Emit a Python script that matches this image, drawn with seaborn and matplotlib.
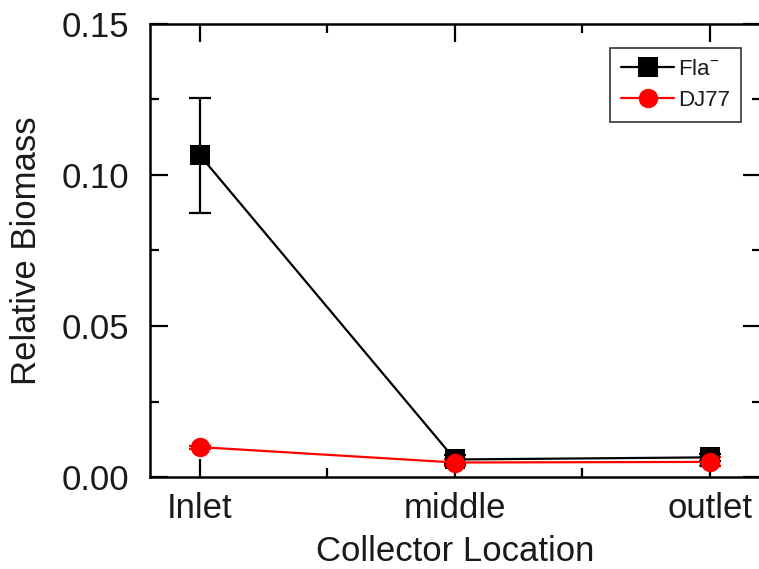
import matplotlib
matplotlib.use("Agg")
import matplotlib.pyplot as plt
import seaborn as sns
import pandas as pd
import numpy as np
from matplotlib.ticker import FixedLocator, MultipleLocator, FormatStrFormatter

categories = ["Inlet", "middle", "outlet"]
fla_values = [0.1065, 0.0058, 0.0065]
fla_err = [0.019, 0.0015, 0.0012]
dj77_values = [0.0099, 0.0048, 0.0050]
dj77_err = [0.0005, 0.0012, 0.0015]
series_names = ["Fla$^{-}$", "DJ77"]
series_colors = ["black", "red"]
series_markers = ["s", "o"]

sns.set_style("ticks")
plt.rcParams["font.family"] = ["Liberation Sans", "DejaVu Sans"]
plt.rcParams["mathtext.fontset"] = "custom"
plt.rcParams["mathtext.rm"] = "Liberation Sans"
plt.rcParams["text.color"] = "#1a1a1a"
plt.rcParams["axes.labelcolor"] = "#1a1a1a"

df = pd.DataFrame({
    "Collector Location": categories * 2,
    "Relative Biomass": fla_values + dj77_values,
    "err": fla_err + dj77_err,
    "series": [series_names[0]] * 3 + [series_names[1]] * 3,
})

fig = plt.figure(figsize=(7.59, 5.69), dpi=100)
ax = fig.add_axes([150 / 759, 92 / 569, 611 / 759, 453 / 569])

for name, color, marker in zip(series_names, series_colors, series_markers):
    sub = df[df["series"] == name]
    ax.errorbar(sub["Collector Location"], sub["Relative Biomass"], yerr=sub["err"],
                fmt="none", ecolor=color, elinewidth=1.6, capsize=8, capthick=1.6, zorder=2)
    sns.lineplot(data=sub, x="Collector Location", y="Relative Biomass", ax=ax,
                 color=color, marker=marker, markersize=14, markeredgewidth=0,
                 linewidth=1.6, label=name, zorder=3)

ax.set_xlim(-0.196, 2.2)
ax.set_ylim(0, 0.15)
ax.yaxis.set_major_locator(FixedLocator([0, 0.05, 0.10, 0.15]))
ax.yaxis.set_major_formatter(FormatStrFormatter("%.2f"))
ax.yaxis.set_minor_locator(MultipleLocator(0.025))
ax.xaxis.set_minor_locator(FixedLocator([0.5, 1.5]))

for s in ax.spines.values():
    s.set_visible(True)
    s.set_linewidth(1.8)
    s.set_color("black")

ax.tick_params(which="both", direction="in", top=True, right=True, width=1.6,
               color="black", labelcolor="#1a1a1a")
ax.tick_params(which="major", length=13)
ax.tick_params(which="minor", length=6.5)
ax.tick_params(axis="y", which="major", pad=15, labelsize=25)
ax.tick_params(axis="x", which="major", pad=11, labelsize=25)

ax.set_xlabel("Collector Location", fontsize=25, labelpad=7)
ax.set_ylabel("Relative Biomass", fontsize=25, labelpad=13)

leg = ax.legend(loc="upper right", bbox_to_anchor=(0.967, 0.947), borderaxespad=0,
                fontsize=16, frameon=True, fancybox=False, handlelength=2.4,
                handletextpad=0.15, borderpad=0.5, labelspacing=0.45)
leg.get_frame().set_edgecolor("black")
leg.get_frame().set_linewidth(1.2)
for t in leg.get_texts():
    t.set_color("#1a1a1a")

fig.savefig("out.png", dpi=100)
